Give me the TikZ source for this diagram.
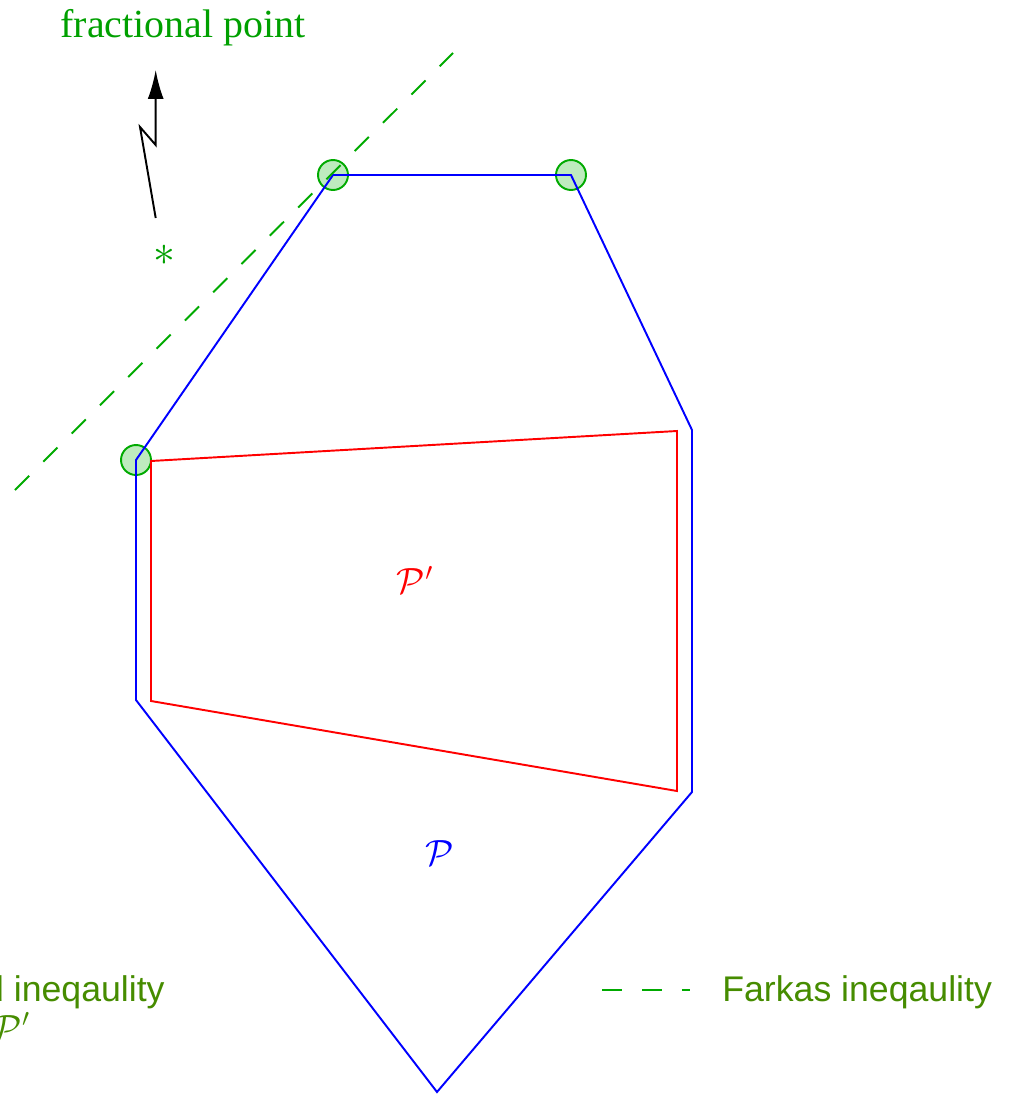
\documentclass[tikz,border=0pt]{standalone}
\usepackage{amsmath}
\usepackage{amssymb}
\usepackage{fontspec}
\newfontfamily\legendfont{Liberation Sans}
\newfontfamily\labelfont{Liberation Serif}
\usetikzlibrary{arrows.meta,calc}
\definecolor{fargreen}{RGB}{0,170,0}
\definecolor{txtgreen}{RGB}{0,160,0}
\definecolor{legendgreen}{RGB}{70,140,0}
\definecolor{vertfill}{RGB}{190,235,190}

\begin{document}
\begin{tikzpicture}[x=0.02cm, y=-0.02cm, >={Latex[length=0.58cm,width=0.32cm]},
  every node/.style={font=\fontsize{20.3}{18.5}\selectfont, inner sep=0pt},
  vert/.style={circle, draw=fargreen, fill=vertfill, line width=1.1pt, minimum size=0.6cm},
  farkas/.style={fargreen, line width=1.1pt, dash pattern=on 0.4cm off 0.4cm},
  legend/.style={legendgreen, font=\fontsize{20.3}{18.5}\legendfont},
  poly/.style={line width=1.1pt, line join=miter}]
\useasboundingbox (0,0) rectangle (1016,1095);

% vertices of P
\coordinate (p1) at (136,460);
\coordinate (p2) at (333,175);
\coordinate (p3) at (571,175);
\coordinate (p4) at (692,430);
\coordinate (p5) at (692,792);
\coordinate (p6) at (437,1092);
\coordinate (p7) at (136,700);
% vertices of P'
\coordinate (q1) at (151,461);
\coordinate (q2) at (677,431);
\coordinate (q3) at (677,791);
\coordinate (q4) at (151,701);

% integer vertices cut off
\node[vert] (v1) at (p1) {};
\node[vert] (v2) at (p2) {};
\node[vert] (v3) at (p3) {};

\draw[poly, blue] (p1) -- (p2) -- (p3) -- (p4) -- (p5) -- (p6) -- (p7) -- cycle;
\draw[poly, red] (q1) -- (q2) -- (q3) -- (q4) -- cycle;

\node[red] (pp) at (415,580) {$\mathcal{P}'$};
\node[blue] (p) at (440,853) {$\mathcal{P}$};

% Farkas cut
\coordinate (f1) at (15,490);
\coordinate (f2) at (453,53);
\draw[farkas] (f1) -- (f2);

% fractional point
\node[txtgreen, font=\fontsize{26}{30}\selectfont] (frac) at (164,255) {$\ast$};
\node[txtgreen, anchor=base, font=\fontsize{22.7}{26}\labelfont] (fraclabel) at (183,38) {fractional point};
\coordinate (a0) at (155.7,218);
\coordinate (a1) at (140,127);
\coordinate (a2) at (155.7,145);
\coordinate (a3) at (155.7,70);
\draw[->, line width=1.1pt, line join=miter] (a0) -- (a1) -- (a2) -- (a3);

% legend
\node[legend, anchor=base east] (valid) at (165,1001) {valid ineqaulity};
\node[legend, anchor=base west] (validp) at (-58,1040) {for $\mathcal{P}'$};
\coordinate (l1) at (602,990);
\coordinate (l2) at (690,990);
\draw[farkas] (l1) -- (l2);
\node[legend, anchor=base west] (farkaslabel) at (722,1001) {Farkas ineqaulity};
\end{tikzpicture}
\end{document}
